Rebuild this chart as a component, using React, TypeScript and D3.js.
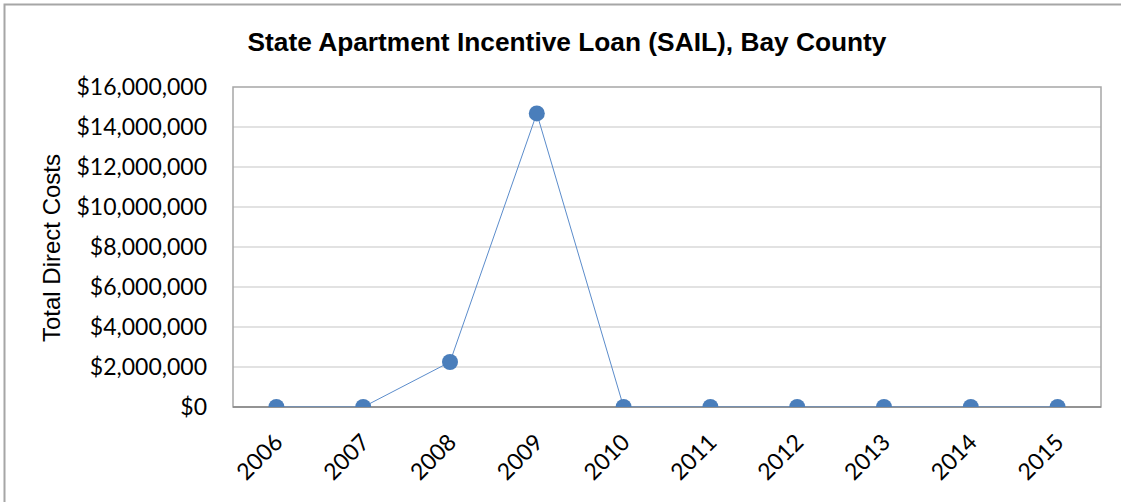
import * as d3 from "d3"
import React from "react"

const years = ["2006", "2007", "2008", "2009", "2010", "2011", "2012", "2013", "2014", "2015"]
const costs = [0, 0, 2250000, 14680000, 0, 0, 0, 0, 0, 0]
const yTicks = [0, 2000000, 4000000, 6000000, 8000000, 10000000, 12000000, 14000000, 16000000]

const W = 1121
const H = 502
const left = 233
const right = 1101
const top = 87
const bottom = 407

export default function App() {
  const x = d3.scaleBand().domain(years).range([left, right])
  const y = d3.scaleLinear().domain([0, 16000000]).range([bottom, top])
  const fmt = (v: number) => "$" + d3.format(",")(v)
  const line = d3
    .line<number>()
    .x((d, i) => x(years[i])! + x.bandwidth() / 2)
    .y((d) => y(d))

  return (
    <svg
      width={W}
      height={H}
      style={{ position: "absolute", left: 0, top: 0 }}
    >
      <rect width={W} height={H} fill="#fff" />
      <rect x={4.5} y={4.5} width={W + 10} height={H + 10} fill="none" stroke="#a6a6a6" strokeWidth={2} />
      <defs>
        <clipPath id="plotclip">
          <rect x={left} y={top} width={right - left} height={bottom - top} />
        </clipPath>
      </defs>
      <text
        x={567}
        y={51}
        textAnchor="middle"
        fontFamily="Liberation Sans, Arial, sans-serif"
        fontWeight="bold"
        fontSize={26.3}
      >
        State Apartment Incentive Loan (SAIL), Bay County
      </text>
      {yTicks.map((t) => (
        <g key={t}>
          {t > 0 && t < 16000000 && (
            <line x1={left} x2={right} y1={y(t)} y2={y(t)} stroke="#d9d9d9" strokeWidth={1.5} />
          )}
          <text
            x={207}
            y={y(t)}
            dy="0.35em"
            textAnchor="end"
            fontFamily="Lato, sans-serif"
            fontSize={23}
          >
            {fmt(t)}
          </text>
        </g>
      ))}
      <rect x={left} y={top} width={right - left} height={bottom - top} fill="none" stroke="#a6a6a6" strokeWidth={1.5} />
      <line x1={left} x2={right} y1={bottom} y2={bottom} stroke="#868686" strokeWidth={1.5} />
      <g clipPath="url(#plotclip)">
        <path d={line(costs)!} fill="none" stroke="#5b8ccb" strokeWidth={1} />
        {costs.map((v, i) => (
          <circle
            key={years[i]}
            cx={x(years[i])! + x.bandwidth() / 2}
            cy={y(v)}
            r={8}
            fill="#4a7ebb"
          />
        ))}
      </g>
      {years.map((yr) => (
        <text
          key={yr}
          transform={`translate(${x(yr)! + x.bandwidth() / 2 + 2},${438}) rotate(-45)`}
          textAnchor="end"
          dy="0.35em"
          fontFamily="Lato, sans-serif"
          fontSize={23}
        >
          {yr}
        </text>
      ))}
      <text
        transform={`translate(60,${248}) rotate(-90)`}
        textAnchor="middle"
        fontFamily="Liberation Sans, Arial, sans-serif"
        fontSize={24}
      >
        Total Direct Costs
      </text>
    </svg>
  )
}
